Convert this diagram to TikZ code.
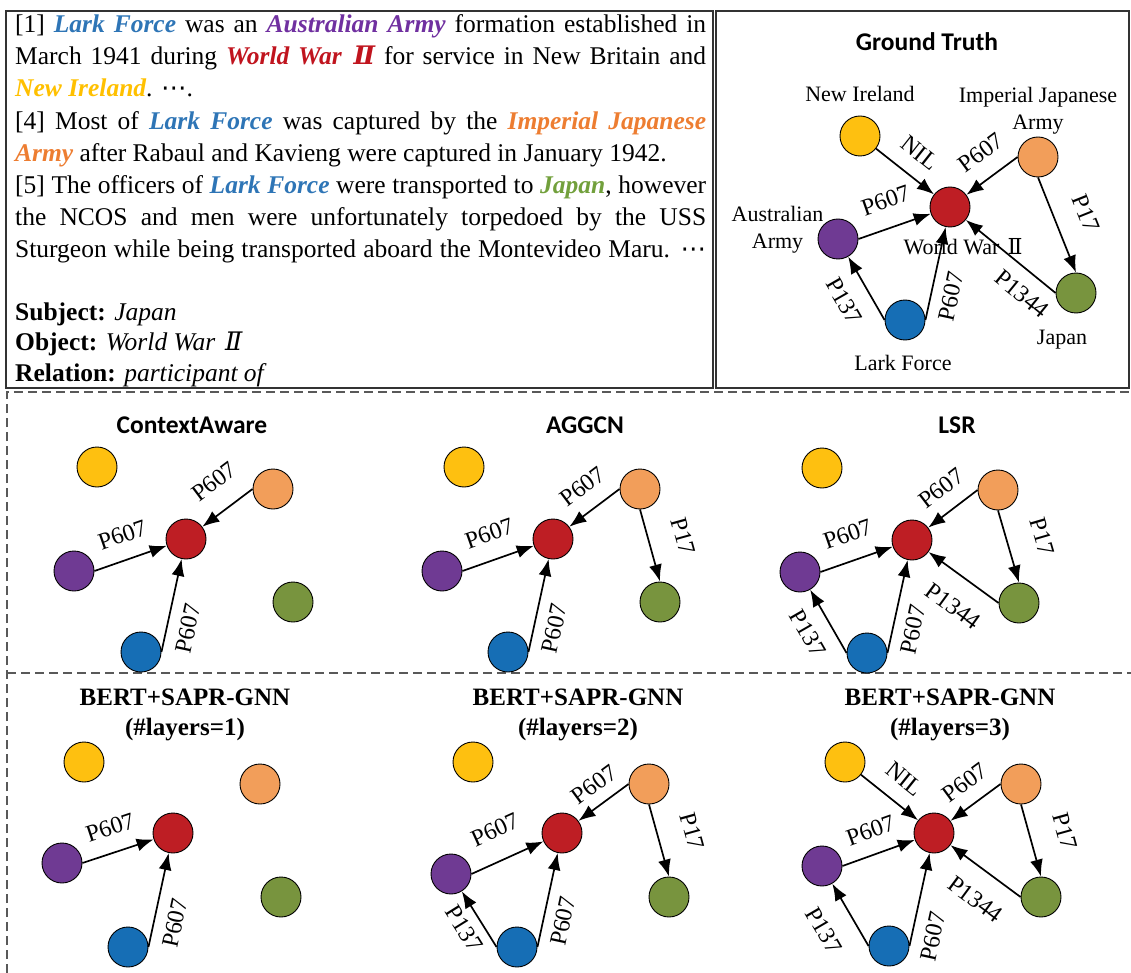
\documentclass[tikz,border=0pt]{standalone}
\usepackage{fontspec}
\usepackage{tikz}
\usetikzlibrary{arrows.meta,positioning}
\setmainfont{Liberation Serif}
\newfontfamily\titlefont{Carlito}
\newfontfamily\romanfont{DejaVu Serif}
\newfontfamily\dotsfont{DejaVu Sans}
\definecolor{wwred}{HTML}{BE1E24}
\definecolor{niyellow}{HTML}{FEC010}
\definecolor{ijaorange}{HTML}{F29E5A}
\definecolor{aapurple}{HTML}{6F3A93}
\definecolor{jpgreen}{HTML}{78943E}
\definecolor{lfblue}{HTML}{166EB5}
\definecolor{lfc}{HTML}{2E75B6}
\definecolor{aac}{HTML}{7030A0}
\definecolor{wwc}{HTML}{C0141E}
\definecolor{nic}{HTML}{FFC000}
\definecolor{ijac}{HTML}{ED7D31}
\definecolor{jpc}{HTML}{72A03C}
\tikzset{
  ent/.style={circle,draw=black,line width=0.9pt,minimum size=40pt,inner sep=0pt},
  rel/.style={-{Latex[length=17pt,width=13pt]},line width=1.7pt},
  lbl/.style={sloped,inner sep=2pt,font=\fontsize{24}{24}\selectfont},
  entname/.style={align=center,inner sep=0pt,font=\fontsize{22}{27}\selectfont},
  txtline/.style={anchor=base west,inner sep=0pt,font=\fontsize{25.5}{32}\selectfont},
  boxframe/.style={draw=black!80,line width=1.4pt},
  dashsep/.style={draw=black!65,line width=1.3pt,dash pattern=on 9pt off 5pt}
}
\newcommand{\mention}[2]{{\bfseries\itshape\color{#1}#2}}
\newcommand{\fullline}[1]{\makebox[691pt][s]{#1}}

\begin{document}
\begin{tikzpicture}[x=1pt,y=-1pt,
  method/.style={font=\titlefont\bfseries\fontsize{25.5}{30}\selectfont},
  model/.style={align=center,font=\bfseries\fontsize{25}{30}\selectfont}
]
  \useasboundingbox (0,0) rectangle (1131,973);

  % frames
  \draw[boxframe] (6,11) rectangle (713,388);
  \draw[boxframe] (716,11) rectangle (1129,388);
  \draw[dashsep] (7,973) -- (7,392) -- (1131,392);
  \draw[dashsep] (7,673) -- (1131,673);

  % document text
  \node[txtline] (t1) at (15,33) {\fullline{[1] \mention{lfc}{Lark Force} was an \mention{aac}{Australian Army} formation established in}};
  \node[txtline] (t2) at (15,65) {\fullline{March 1941 during \mention{wwc}{World War\hspace{12pt}{\romanfont Ⅱ}} for service in New Britain and}};
  \node[txtline] (t3) at (15,97) {\mention{nic}{New Ireland}. {\dotsfont ⋯}.};
  \node[txtline] (t4) at (15,129.5) {\fullline{[4] Most of \mention{lfc}{Lark Force} was captured by the \mention{ijac}{Imperial Japanese}}};
  \node[txtline] (t5) at (15,161.5) {\mention{ijac}{Army} after Rabaul and Kavieng were captured in January 1942.};
  \node[txtline] (t6) at (15,193.5) {\fullline{[5] The officers of \mention{lfc}{Lark Force} were transported to \mention{jpc}{Japan}, however}};
  \node[txtline] (t7) at (15,226) {\fullline{the NCOS and men were unfortunately torpedoed by the USS}};
  \node[txtline] (t8) at (15,258) {\fullline{Sturgeon while being transported aboard the Montevideo Maru. {\dotsfont ⋯}}};
  \node[txtline] (t9) at (15,320) {\textbf{Subject:} \textit{Japan}};
  \node[txtline] (t10) at (15,350.5) {\textbf{Object:} \textit{World War\hspace{10pt}{\romanfont Ⅱ}}};
  \node[txtline] (t11) at (15,381) {\textbf{Relation:} \textit{participant of}};

  % Ground Truth
  \node[method] (gt) at (927,42) {Ground Truth};
  \node[ent,fill=wwred] (gt-ww) at (950,207) {};
  \node[ent,fill=niyellow] (gt-ni) at (860,136) {};
  \node[ent,fill=ijaorange] (gt-ija) at (1038,157) {};
  \node[ent,fill=aapurple] (gt-aa) at (838,239) {};
  \node[ent,fill=jpgreen] (gt-jp) at (1076,293) {};
  \node[ent,fill=lfblue] (gt-lf) at (905,320) {};
  \node[entname,above=14pt of gt-ni] {New Ireland};
  \node[entname,above=2pt of gt-ija] {Imperial Japanese\\Army};
  \node[entname,left=-6pt of gt-aa,yshift=9pt] {Australian\\Army};
  \node[entname,below=11pt of gt-ww,xshift=13pt] {World War\hspace{8pt}{\romanfont Ⅱ}};
  \node[entname,below=16pt of gt-jp,xshift=-14pt] {Japan};
  \node[entname,below=15pt of gt-lf,xshift=-2pt] {Lark Force};

  \draw[rel] (gt-ni) -- node[lbl,above=13pt] {NIL} (gt-ww);
  \draw[rel] (gt-ija.west) -- node[lbl,above=14.5pt,pos=0.42] {P607} (gt-ww);
  \draw[rel] (gt-aa.east) -- node[lbl,above=16.5pt] {P607} (gt-ww);
  \draw[rel] (gt-ija.south) -- node[lbl,above=20.5pt] {P17} (gt-jp.north);
  \draw[rel] (gt-jp.west) -- node[lbl,below=11pt,pos=0.22] {P1344} (gt-ww);
  \draw[rel] (gt-lf.west) -- node[lbl,below=14.5pt] {P137} (gt-aa);
  \draw[rel] (gt-lf.east) -- node[lbl,below=9pt,pos=0.3] {P607} (gt-ww);

  % ContextAware
  \node[method] (ca) at (192,425) {ContextAware};
  \begin{scope}[shift={(186,539)}]
    \node[ent,fill=wwred] (ca-ww) at (0,0) {};
    \node[ent,fill=niyellow] (ca-ni) at (-89,-72) {};
    \node[ent,fill=ijaorange] (ca-ija) at (87,-50) {};
    \node[ent,fill=aapurple] (ca-aa) at (-112,32) {};
    \node[ent,fill=jpgreen] (ca-jp) at (107,63) {};
    \node[ent,fill=lfblue] (ca-lf) at (-45,113) {};
  \end{scope}
  \draw[rel] (ca-aa.east) -- node[lbl,above=14pt] {P607} (ca-ww);
  \draw[rel] (ca-ija.west) -- node[lbl,above=18pt,pos=0.42] {P607} (ca-ww);
  \draw[rel] (ca-lf.east) -- node[lbl,below=10pt,pos=0.3] {P607} (ca-ww);

  % AGGCN
  \node[method] (ag) at (585,425) {AGGCN};
  \begin{scope}[shift={(553,539)}]
    \node[ent,fill=wwred] (ag-ww) at (0,0) {};
    \node[ent,fill=niyellow] (ag-ni) at (-89,-72) {};
    \node[ent,fill=ijaorange] (ag-ija) at (87,-50) {};
    \node[ent,fill=aapurple] (ag-aa) at (-111,32) {};
    \node[ent,fill=jpgreen] (ag-jp) at (107,63) {};
    \node[ent,fill=lfblue] (ag-lf) at (-45,113) {};
  \end{scope}
  \draw[rel] (ag-aa.east) -- node[lbl,above=15.5pt] {P607} (ag-ww);
  \draw[rel] (ag-ija.west) -- node[lbl,above=13pt,pos=0.45] {P607} (ag-ww);
  \draw[rel] (ag-ija.south) -- node[lbl,above=24pt] {P17} (ag-jp.north);
  \draw[rel] (ag-lf.east) -- node[lbl,below=9.5pt,pos=0.3] {P607} (ag-ww);

  % LSR
  \node[method] (ls) at (957,425) {LSR};
  \begin{scope}[shift={(912,540)}]
    \node[ent,fill=wwred] (ls-ww) at (0,0) {};
    \node[ent,fill=niyellow] (ls-ni) at (-90,-72) {};
    \node[ent,fill=ijaorange] (ls-ija) at (86,-50) {};
    \node[ent,fill=aapurple] (ls-aa) at (-112,32) {};
    \node[ent,fill=jpgreen] (ls-jp) at (107,63) {};
    \node[ent,fill=lfblue] (ls-lf) at (-45,113) {};
  \end{scope}
  \draw[rel] (ls-aa.east) -- node[lbl,above=16pt] {P607} (ls-ww);
  \draw[rel] (ls-ija.west) -- node[lbl,above=12.5pt,pos=0.45] {P607} (ls-ww);
  \draw[rel] (ls-ija.south) -- node[lbl,above=24.5pt] {P17} (ls-jp.north);
  \draw[rel] (ls-jp.west) -- node[lbl,below=18.5pt,pos=0.4] {P1344} (ls-ww);
  \draw[rel] (ls-lf.west) -- node[lbl,below=13pt] {P137} (ls-aa);
  \draw[rel] (ls-lf.east) -- node[lbl,below=9pt,pos=0.3] {P607} (ls-ww);

  % BERT+SAPR-GNN, 1 layer
  \node[model] (b1) at (185,715) {BERT+SAPR-GNN\\(\#layers=1)};
  \begin{scope}[shift={(173,833)}]
    \node[ent,fill=wwred] (b1-ww) at (0,0) {};
    \node[ent,fill=niyellow] (b1-ni) at (-89,-71) {};
    \node[ent,fill=ijaorange] (b1-ija) at (87,-49) {};
    \node[ent,fill=aapurple] (b1-aa) at (-111,30) {};
    \node[ent,fill=jpgreen] (b1-jp) at (108,64) {};
    \node[ent,fill=lfblue] (b1-lf) at (-45,114) {};
  \end{scope}
  \draw[rel] (b1-aa.east) -- node[lbl,above=14pt] {P607} (b1-ww);
  \draw[rel] (b1-lf.east) -- node[lbl,below=10pt,pos=0.3] {P607} (b1-ww);

  % BERT+SAPR-GNN, 2 layers
  \node[model] (b2) at (578,715) {BERT+SAPR-GNN\\(\#layers=2)};
  \begin{scope}[shift={(562,833)}]
    \node[ent,fill=wwred] (b2-ww) at (0,0) {};
    \node[ent,fill=niyellow] (b2-ni) at (-89,-71) {};
    \node[ent,fill=ijaorange] (b2-ija) at (87,-49) {};
    \node[ent,fill=aapurple] (b2-aa) at (-111,41) {};
    \node[ent,fill=jpgreen] (b2-jp) at (107,64) {};
    \node[ent,fill=lfblue] (b2-lf) at (-45,114) {};
  \end{scope}
  \draw[rel] (b2-aa.east) -- node[lbl,above=19.5pt] {P607} (b2-ww);
  \draw[rel] (b2-ija.west) -- node[lbl,above=9pt,pos=0.45] {P607} (b2-ww);
  \draw[rel] (b2-ija.south) -- node[lbl,above=24pt] {P17} (b2-jp.north);
  \draw[rel] (b2-lf.west) -- node[lbl,below=7pt] {P137} (b2-aa);
  \draw[rel] (b2-lf.east) -- node[lbl,below=8.5pt,pos=0.32] {P607} (b2-ww);

  % BERT+SAPR-GNN, 3 layers
  \node[model] (b3) at (950,715) {BERT+SAPR-GNN\\(\#layers=3)};
  \begin{scope}[shift={(934,833)}]
    \node[ent,fill=wwred] (b3-ww) at (0,0) {};
    \node[ent,fill=niyellow] (b3-ni) at (-89,-71) {};
    \node[ent,fill=ijaorange] (b3-ija) at (87,-49) {};
    \node[ent,fill=aapurple] (b3-aa) at (-112,33) {};
    \node[ent,fill=jpgreen] (b3-jp) at (107,64) {};
    \node[ent,fill=lfblue] (b3-lf) at (-45,113) {};
  \end{scope}
  \draw[rel] (b3-ni) -- node[lbl,above=13.5pt] {NIL} (b3-ww);
  \draw[rel] (b3-aa.east) -- node[lbl,above=13pt] {P607} (b3-ww);
  \draw[rel] (b3-ija.west) -- node[lbl,above=11pt,pos=0.45] {P607} (b3-ww);
  \draw[rel] (b3-ija.south) -- node[lbl,above=24.5pt] {P17} (b3-jp.north);
  \draw[rel] (b3-jp.west) -- node[lbl,below=18pt,pos=0.4] {P1344} (b3-ww);
  \draw[rel] (b3-lf.west) -- node[lbl,below=20pt] {P137} (b3-aa);
  \draw[rel] (b3-lf.east) -- node[lbl,below=10pt,pos=0.15] {P607} (b3-ww);
\end{tikzpicture}
\end{document}
